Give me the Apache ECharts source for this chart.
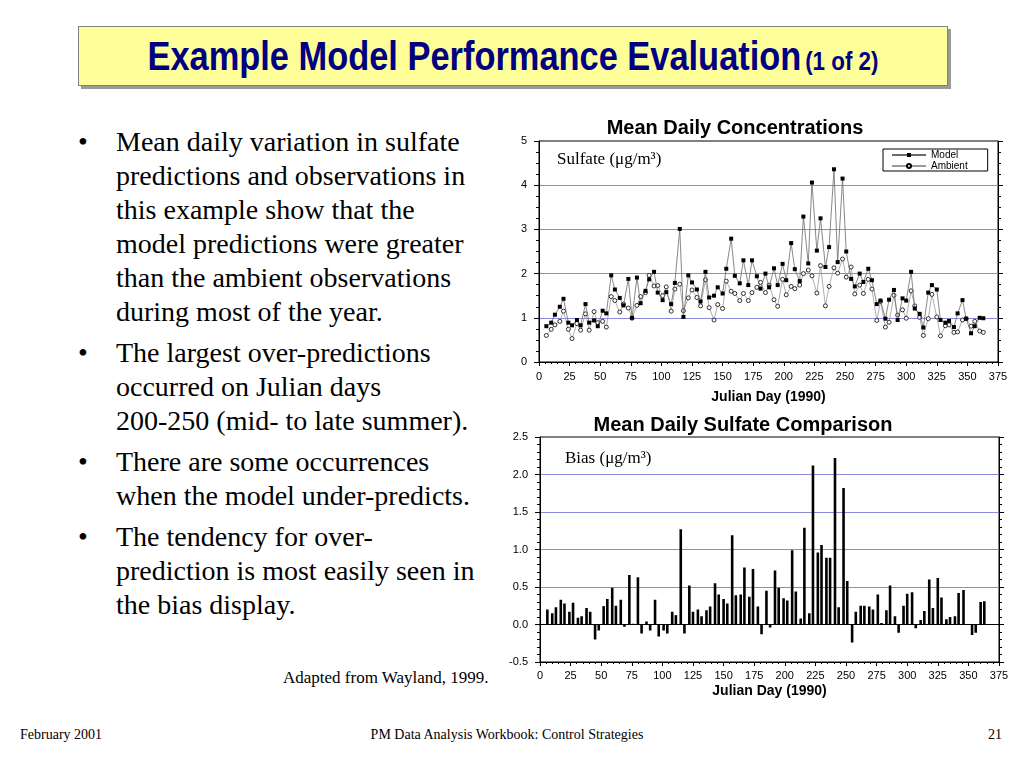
<!DOCTYPE html>
<html><head><meta charset="utf-8">
<script src="https://cdn.jsdelivr.net/npm/echarts/dist/echarts.min.js"></script>
<style>
html,body{margin:0;padding:0;background:#fff;}
body{width:1024px;height:768px;position:relative;overflow:hidden;}
#titlebox{position:absolute;left:78px;top:26px;width:868px;height:58px;background:#FFFF99;border:1px solid #808080;box-shadow:3px 3px 0 #9a9a9a;text-align:center;color:#000080;font-family:'Liberation Sans',Arial,sans-serif;font-weight:bold;white-space:nowrap;}
#titlebox .inner{display:inline-block;transform:scaleX(0.86);transform-origin:center;line-height:58px;}
#titlebox .big{font-size:40px;}
#titlebox .small{font-size:26px;}
#bullets{position:absolute;left:78px;top:125px;width:440px;font-family:'Liberation Serif','Times New Roman',serif;font-size:28px;line-height:34px;color:#000;white-space:nowrap;}
.b{position:relative;padding-left:38px;margin-bottom:7px;}
.b .dot{position:absolute;left:0;top:0;}
.note{position:absolute;font-family:'Liberation Serif',serif;color:#000;white-space:nowrap;}
#chart{position:absolute;left:0;top:0;width:1024px;height:768px;}
</style>
</head><body>
<div id="titlebox"><span class="inner"><span class="big">Example Model Performance Evaluation</span> <span class="small">(1 of 2)</span></span></div>
<div id="bullets">
<div class="b"><span class="dot">•</span>Mean daily variation in sulfate<br>predictions and observations in<br>this example show that the<br>model predictions were greater<br>than the ambient observations<br>during most of the year.</div>
<div class="b"><span class="dot">•</span>The largest over-predictions<br>occurred on Julian days<br>200-250 (mid- to late summer).</div>
<div class="b"><span class="dot">•</span>There are some occurrences<br>when the model under-predicts.</div>
<div class="b"><span class="dot">•</span>The tendency for over-<br>prediction is most easily seen in<br>the bias display.</div>
</div>
<div class="note" style="left:283px;top:668px;font-size:17px;">Adapted from Wayland, 1999.</div>
<div class="note" style="left:20px;top:727px;font-size:14px;">February 2001</div>
<div class="note" style="left:507px;top:727px;font-size:14px;transform:translateX(-50%);">PM Data Analysis Workbook: Control Strategies</div>
<div class="note" style="left:988px;top:727px;font-size:14px;">21</div>
<div id="chart"></div>
<script>
// Julian days of sampling
var days = [6,10,13,17,20,24,27,31,34,38,41,45,48,52,55,59,62,66,69,73,76,80,83,87,90,94,97,101,104,108,111,115,118,122,125,129,132,136,139,143,146,150,153,157,160,164,167,171,174,178,181,185,188,192,195,199,202,206,209,213,216,220,223,227,230,234,237,241,244,248,251,255,258,262,265,269,272,276,279,283,286,290,293,297,300,304,307,311,314,318,321,325,328,332,335,339,342,346,349,353,356,360,363];
// Model sulfate (ug/m3)
var model = [0.81,0.89,1.07,1.25,1.43,0.89,0.83,0.95,0.83,1.31,0.89,0.94,0.81,1.16,1.10,1.96,1.64,1.45,1.28,1.88,1.00,1.91,1.33,1.61,1.87,2.04,1.57,1.40,1.58,1.31,1.79,3.01,1.02,1.96,1.80,1.64,1.37,2.04,1.46,1.50,1.69,1.55,2.11,2.79,1.95,1.78,2.30,1.74,2.30,1.94,1.66,2.00,1.69,2.12,1.74,2.22,1.85,2.69,2.10,1.83,3.29,2.23,4.06,2.52,3.25,2.15,2.60,4.36,2.26,4.15,2.50,1.88,1.71,2.00,1.81,2.11,1.85,1.31,1.39,0.98,1.41,1.63,0.95,1.44,1.39,2.04,1.21,1.09,0.78,1.57,1.74,1.64,0.95,0.89,0.93,0.79,1.10,1.40,0.98,0.65,0.81,1.00,0.99];
// Ambient sulfate (ug/m3)
var ambient = [0.60,0.74,0.84,0.92,1.15,0.74,0.53,0.87,0.72,1.09,0.72,1.14,0.89,0.92,0.79,1.48,1.39,1.13,1.31,1.22,0.99,1.28,1.48,1.57,1.96,1.72,1.73,1.50,1.70,1.15,1.65,1.76,1.16,1.45,1.63,1.46,1.27,1.86,1.23,0.95,1.30,1.21,1.83,1.60,1.55,1.39,1.55,1.39,1.57,1.69,1.80,1.57,1.74,1.41,1.26,1.87,1.52,1.71,1.66,1.74,2.00,2.08,1.95,1.56,2.18,1.27,1.71,2.13,2.01,2.33,1.92,2.15,1.54,1.74,1.55,1.87,1.65,0.94,1.37,0.79,0.90,1.51,1.06,1.18,0.99,1.61,1.27,1.01,0.60,0.98,1.53,1.02,0.59,0.82,0.84,0.67,0.68,0.95,0.98,0.81,0.92,0.70,0.67];
// Bias (ug/m3)
var bias = [0.20,0.15,0.23,0.33,0.28,0.17,0.29,0.09,0.11,0.22,0.17,-0.20,-0.08,0.245,0.34,0.49,0.25,0.33,-0.03,0.66,0.01,0.63,-0.12,0.04,-0.08,0.33,-0.16,-0.08,-0.12,0.17,0.125,1.27,-0.12,0.52,0.17,0.20,0.11,0.19,0.24,0.55,0.40,0.34,0.28,1.19,0.39,0.40,0.76,0.37,0.74,0.24,-0.13,0.45,-0.04,0.72,0.49,0.35,0.32,0.99,0.44,0.08,1.29,0.15,2.12,0.96,1.06,0.89,0.89,2.22,0.23,1.82,0.58,-0.24,0.17,0.25,0.25,0.24,0.20,0.40,0.02,0.19,0.52,0.11,-0.11,0.25,0.41,0.43,-0.05,0.06,0.18,0.60,0.22,0.62,0.36,0.07,0.10,0.11,0.42,0.46,0,-0.14,-0.11,0.30,0.31];
var xTicks = [0,375,25];

function pairs(v){ return days.map(function(d,i){ return [d, v[i]]; }); }
var blue = '#8a8adc';
var ff = "'Liberation Sans', Arial, sans-serif";

function xAx(g, gap, margin){
  return {gridIndex:g, type:'value', min:xTicks[0], max:xTicks[1], interval:xTicks[2],
    axisLine:{show:true, onZero:false, lineStyle:{color:'#000', width:1}},
    axisTick:{show:true, inside:false, length:4, lineStyle:{color:'#000'}},
    minorTick:{show:true, splitNumber:5, length:2, lineStyle:{color:'#000'}},
    axisLabel:{fontSize:11, color:'#000', fontFamily:ff, margin:margin},
    splitLine:{show:false},
    name:'Julian Day (1990)', nameLocation:'middle', nameGap:gap,
    nameTextStyle:{fontSize:14, fontWeight:'bold', color:'#000', fontFamily:ff}};
}
function yAx(g, min, max, step, minor, right, fmt){
  var a = {gridIndex:g, type:'value', min:min, max:max, interval:step, position: right?'right':'left',
    axisLine:{show:true, onZero:false, lineStyle:{color:'#000', width:1}},
    axisTick:{show:true, inside:false, length:5, lineStyle:{color:'#000'}},
    minorTick:{show:true, splitNumber:minor, length:3, lineStyle:{color:'#000'}},
    axisLabel:{show:!right, fontSize:11, color:'#000', fontFamily:ff, margin:12, formatter:fmt},
    splitLine:{show:!right, showMinLine:false, showMaxLine:false, lineStyle:{color:blue, width:1}}};
  return a;
}

var chart = echarts.init(document.getElementById('chart'), null, {renderer:'canvas'});
chart.setOption({
  animation:false,
  backgroundColor:'transparent',
  title:[
    {text:'Mean Daily Concentrations', left:730, textAlign:'center', top:113, textStyle:{fontSize:20, fontWeight:'bold', color:'#000', fontFamily:ff}},
    {text:'Mean Daily Sulfate Comparison', left:738, textAlign:'center', top:410, textStyle:{fontSize:20, fontWeight:'bold', color:'#000', fontFamily:ff}}
  ],
  grid:[
    {left:539, top:141, width:459, height:221, show:true, borderColor:'#000', borderWidth:1, backgroundColor:'transparent'},
    {left:540, top:437, width:459, height:225, show:true, borderColor:'#000', borderWidth:1, backgroundColor:'transparent'}
  ],
  xAxis:[ xAx(0, 28, 9), xAx(1, 22, 8) ],
  yAxis:[
    yAx(0, 0, 5, 1, 4, false, function(v){return String(v);}),
    yAx(0, 0, 5, 1, 4, true),
    yAx(1, -0.5, 2.5, 0.5, 5, false, function(v){return v.toFixed(1);}),
    yAx(1, -0.5, 2.5, 0.5, 5, true)
  ],
  legend:{data:['Model','Ambient'], left:883, top:149, orient:'vertical', itemWidth:34, itemHeight:5, itemGap:1,
    padding:[1,20,0,8], borderColor:'#000', borderWidth:1, backgroundColor:'#fff',
    textStyle:{fontSize:10, color:'#000', fontFamily:ff}},
  graphic:[
    {type:'text', left:557, top:151, style:{text:'Sulfate (μg/m³)', font:"17px 'Liberation Serif'", fill:'#000'}},
    {type:'text', left:565, top:450, style:{text:'Bias (μg/m³)', font:"17px 'Liberation Serif'", fill:'#000'}}
  ],
  series:[
    {name:'Model', type:'line', xAxisIndex:0, yAxisIndex:0, data:pairs(model), symbol:'rect', symbolSize:4, showAllSymbol:true,
      itemStyle:{color:'#000'}, lineStyle:{color:'#6a6a6a', width:0.8}, z:3},
    {name:'Ambient', type:'line', xAxisIndex:0, yAxisIndex:0, data:pairs(ambient), symbol:'circle', symbolSize:4, showAllSymbol:true,
      itemStyle:{color:'#fff', borderColor:'#000', borderWidth:0.8}, lineStyle:{color:'#9a9a9a', width:0.8}, z:2},
    {name:'Bias', type:'bar', xAxisIndex:1, yAxisIndex:2, data:pairs(bias), barWidth:2.6, itemStyle:{color:'#000'},
      markLine:{silent:true, symbol:['none','none'], label:{show:false}, lineStyle:{color:'#000', type:'solid', width:1}, data:[{yAxis:0}]}}
  ]
});
</script>
</body></html>
